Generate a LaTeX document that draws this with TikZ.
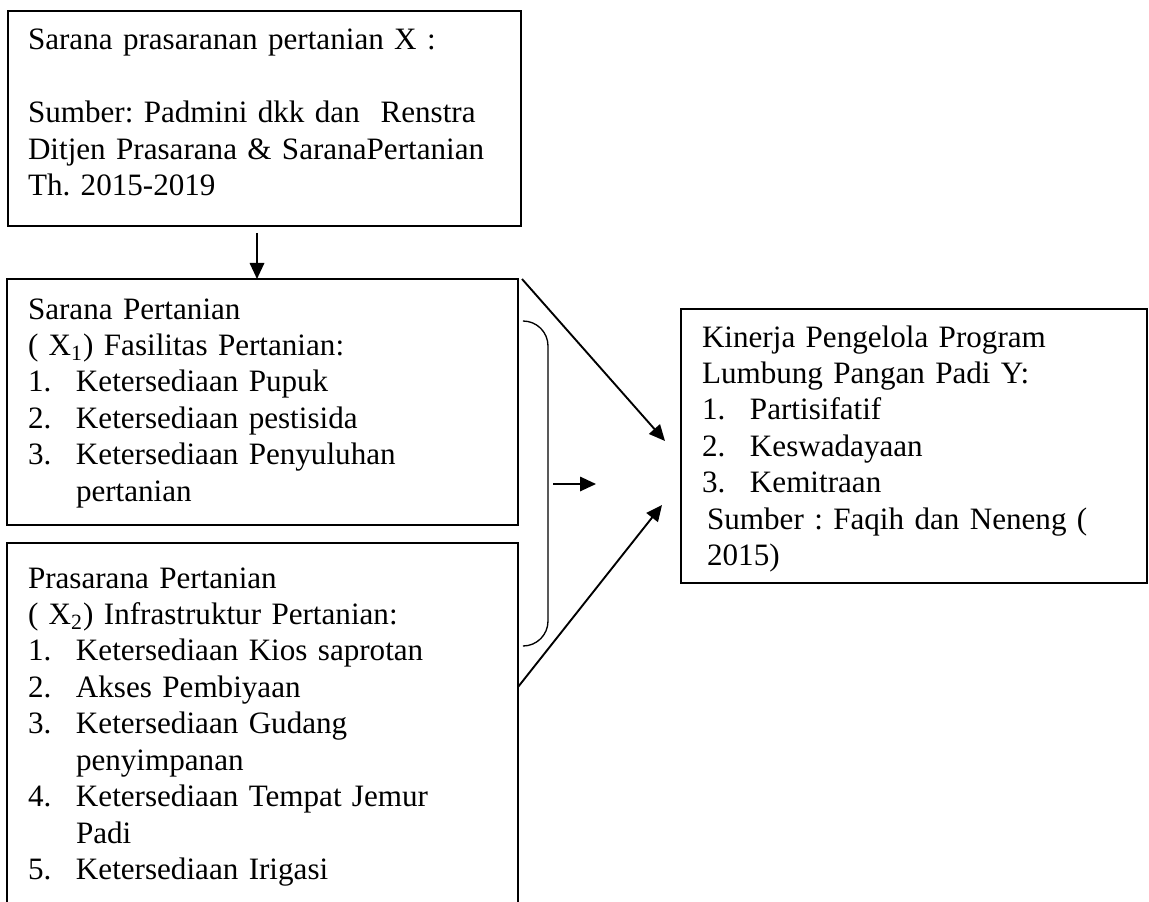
\documentclass[tikz,border=0pt]{standalone}
\usepackage{fontspec}
\setmainfont{Liberation Serif}
\usetikzlibrary{arrows.meta}
\frenchspacing

\begin{document}
\begin{tikzpicture}[x=0.45pt,y=-0.45pt,line width=0.7pt,
  box/.style={draw,rectangle,anchor=north west,align=left,inner ysep=0pt,outer sep=0pt,
    font=\fontsize{14}{16.4}\selectfont},
  arr/.style={line width=0.85pt,-{Triangle[length=7.2pt,width=6.5pt]}}]

\path[use as bounding box,clip] (0,0) rectangle (1149,901);

% kotak sumber X
\node(x) at (8,11) [box,inner xsep=9pt,text width=212.85pt,text height=17.55pt,text depth=79.2pt]
  {Sarana prasaranan pertanian X :\\[16.4pt]
   Sumber: Padmini dkk dan~ Renstra\\
   Ditjen Prasarana \& SaranaPertanian\\
   Th. 2015-2019};

% X1
\node(xa) at (7,279) [box,inner xsep=9.45pt,text width=211.05pt,text height=18pt,text depth=92.7pt]
  {Sarana Pertanian\\
   ( X\textsubscript{1}) Fasilitas Pertanian:\\
   \makebox[21.6pt][l]{1.}Ketersediaan Pupuk\\
   \makebox[21.6pt][l]{2.}Ketersediaan pestisida\\
   \makebox[21.6pt][l]{3.}Ketersediaan Penyuluhan\\
   \hspace*{21.6pt}pertanian};

% X2
\node(xb) at (7,543) [box,inner xsep=9.45pt,text width=211.05pt,text height=20.25pt,text depth=149.4pt]
  {Prasarana Pertanian\\
   ( X\textsubscript{2}) Infrastruktur Pertanian:\\
   \makebox[21.6pt][l]{1.}Ketersediaan Kios saprotan\\
   \makebox[21.6pt][l]{2.}Akses Pembiyaan\\
   \makebox[21.6pt][l]{3.}Ketersediaan Gudang\\
   \hspace*{21.6pt}penyimpanan\\
   \makebox[21.6pt][l]{4.}Ketersediaan Tempat Jemur\\
   \hspace*{21.6pt}Padi\\
   \makebox[21.6pt][l]{5.}Ketersediaan Irigasi};

% Y
\node(y) at (681,309) [box,inner xsep=9.45pt,text width=190.8pt,text height=17.1pt,text depth=106.2pt]
  {Kinerja Pengelola Program\\
   Lumbung Pangan Padi Y:\\
   \makebox[21.6pt][l]{1.}Partisifatif\\
   \makebox[21.6pt][l]{2.}Keswadayaan\\
   \makebox[21.6pt][l]{3.}Kemitraan\\
   \hspace*{2.3pt}Sumber : Faqih dan Neneng (\\
   \hspace*{2.3pt}2015)};

\coordinate(d) at (257,233);
\coordinate(e1) at (665,441);
\coordinate(m1) at (553,484);
\coordinate(m2) at (596,484);
\coordinate(e2) at (662,505);

\draw[arr] (d) -- (d |- xa.north);
\draw[arr] ([xshift=1.8pt]xa.north east) -- (e1);
\draw[arr] (m1) -- (m2);
\draw[arr] ([yshift=-64.8pt]xb.north east) -- (e2);

% kurung
\draw[line width=0.6pt,rounded corners=11.25pt] (523,321) -- (548,321) -- (548,646) -- (523,646);

\end{tikzpicture}
\end{document}
